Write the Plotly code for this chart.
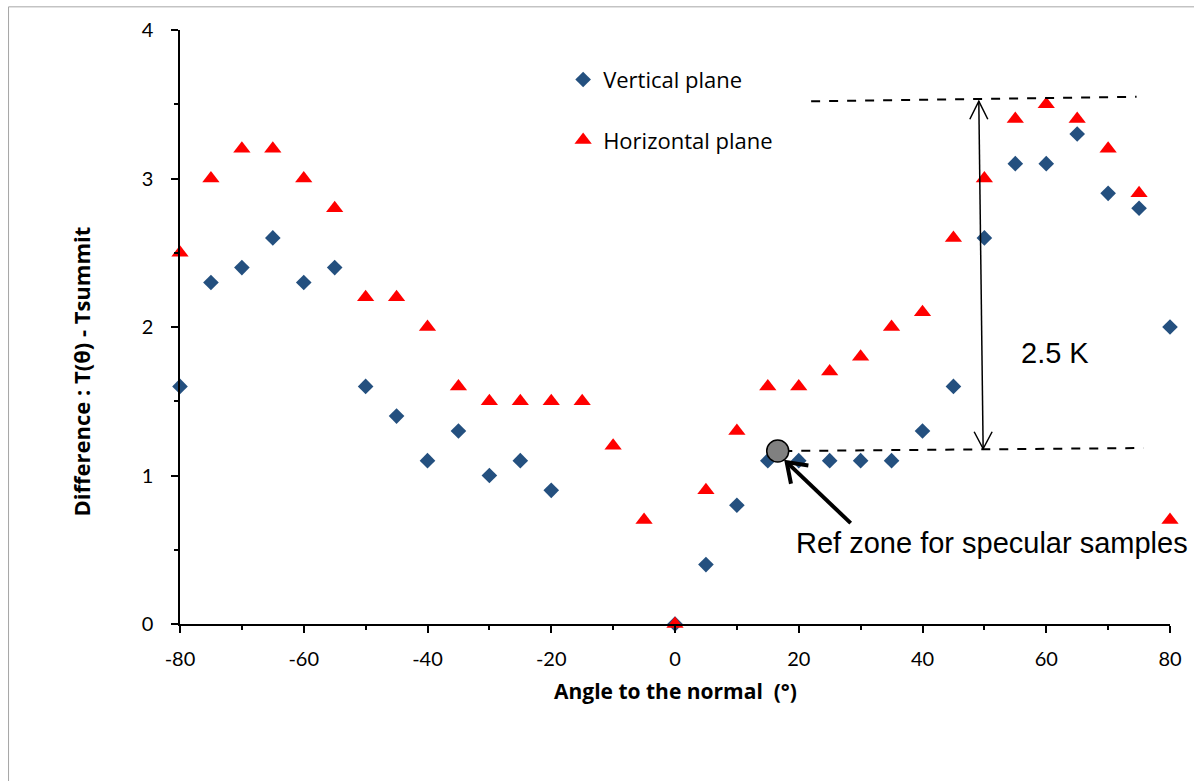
import plotly.graph_objects as go

angles = [-80, -75, -70, -65, -60, -55, -50, -45, -40, -35, -30, -25, -20, -15, -10, -5,
          0, 5, 10, 15, 20, 25, 30, 35, 40, 45, 50, 55, 60, 65, 70, 75, 80]
vertical = [1.6, 2.3, 2.4, 2.6, 2.3, 2.4, 1.6, 1.4, 1.1, 1.3, 1.0, 1.1, 0.9, None, None, None,
            0.0, 0.4, 0.8, 1.1, 1.1, 1.1, 1.1, 1.1, 1.3, 1.6, 2.6, 3.1, 3.1, 3.3, 2.9, 2.8, 2.0]
horizontal = [2.5, 3.0, 3.2, 3.2, 3.0, 2.8, 2.2, 2.2, 2.0, 1.6, 1.5, 1.5, 1.5, 1.5, 1.2, 0.7,
              0.0, 0.9, 1.3, 1.6, 1.6, 1.7, 1.8, 2.0, 2.1, 2.6, 3.0, 3.4, 3.5, 3.4, 3.2, 2.9, 0.7]
x_ticks = [-80, -60, -40, -20, 0, 20, 40, 60, 80]
y_ticks = [0, 1, 2, 3, 4]

BLUE = "#24507F"
RED = "#FF0000"
UIFONT = "Lato"
TITLEFONT = "Open Sans"
ARIAL = "Liberation Sans"

fig = go.Figure()
fig.add_trace(go.Scatter(x=angles, y=vertical, mode="markers", name="Vertical plane",
                         marker=dict(symbol="diamond", size=12, color=BLUE),
                         cliponaxis=False, legendgroup="v"))
fig.add_trace(go.Scatter(x=angles, y=horizontal, mode="markers", name="Horizontal plane",
                         marker=dict(symbol="triangle-up", size=15, color=RED),
                         cliponaxis=False, legendgroup="h"))

shapes = []
# outer chart border
shapes.append(dict(type="rect", xref="paper", yref="paper", x0=-0.1732, x1=1.2, y0=-0.5, y1=1.039,
                   line=dict(color="#A6A6A6", width=1), fillcolor="rgba(0,0,0,0)", layer="below"))
# dashed reference lines
shapes.append(dict(type="line", x0=22, y0=3.52, x1=74.6, y1=3.55,
                   line=dict(color="black", width=2, dash="dash")))
shapes.append(dict(type="line", x0=17.5, y0=1.165, x1=75.7, y1=1.185,
                   line=dict(color="black", width=2, dash="dash")))
# vertical double arrow
shapes.append(dict(type="line", x0=49.1, y0=3.52, x1=49.8, y1=1.18,
                   line=dict(color="black", width=1.5)))
shapes.append(dict(type="path", xsizemode="pixel", ysizemode="pixel", xanchor=49.1, yanchor=3.52,
                   path="M -9,-18 L 0,0 L 9,-18", line=dict(color="black", width=1.5)))
shapes.append(dict(type="path", xsizemode="pixel", ysizemode="pixel", xanchor=49.8, yanchor=1.18,
                   path="M -9,17 L 0,0 L 9,17", line=dict(color="black", width=1.5)))
# thick pointer arrow
shapes.append(dict(type="path", xsizemode="pixel", ysizemode="pixel", xanchor=18.05, yanchor=1.09,
                   path="M 64,-61 L 0,0", line=dict(color="black", width=4)))
shapes.append(dict(type="path", xsizemode="pixel", ysizemode="pixel", xanchor=18.05, yanchor=1.09,
                   path="M 21.7,-3.4 L 0,0 L 4.3,-21.6", line=dict(color="black", width=4)))
# grey reference circle
shapes.append(dict(type="circle", xsizemode="pixel", ysizemode="pixel", xanchor=16.6, yanchor=1.165,
                   x0=-11, x1=11, y0=-11, y1=11, fillcolor="#808080", line=dict(color="black", width=1.5)))

annotations = [
    dict(x=55.6, y=1.825, text="2.5 K", showarrow=False, xanchor="left", yanchor="middle",
         font=dict(family=ARIAL, size=29, color="black")),
    dict(x=19.3, y=0.545, text="Ref zone for specular samples", showarrow=False, xanchor="left",
         yanchor="middle", font=dict(family=ARIAL, size=29, color="black")),
    dict(xref="paper", yref="paper", x=0.5, y=-0.113, text="<b>Angle to the normal  (°)</b>",
         showarrow=False, xanchor="center", yanchor="middle",
         font=dict(family=TITLEFONT, size=21, color="black")),
    dict(xref="paper", yref="paper", x=-0.1, y=0.425, text="<b>Difference : T(θ) - Tsummit</b>",
         showarrow=False, xanchor="center", yanchor="middle", textangle=-90,
         font=dict(family=TITLEFONT, size=22, color="black")),
]

fig.update_layout(
    width=1194, height=781,
    margin=dict(l=180, r=21, t=30, b=157),
    paper_bgcolor="white", plot_bgcolor="white",
    font=dict(family=UIFONT, size=20, color="black"),
    shapes=shapes, annotations=annotations,
    showlegend=True,
    legend=dict(x=0.387, y=0.865, xanchor="left", yanchor="middle", tracegroupgap=29,
                font=dict(family=TITLEFONT, size=22, color="black"), bgcolor="rgba(0,0,0,0)"),
    xaxis=dict(range=[-80, 80], tickvals=x_ticks, ticktext=[str(v) for v in x_ticks],
               showgrid=False, zeroline=False, showline=True, linecolor="black", linewidth=1.5,
               ticks="outside", ticklen=7, tickwidth=1.5, tickcolor="black",
               minor=dict(dtick=10, tick0=0, ticks="outside", ticklen=4, tickwidth=1.5, tickcolor="black", showgrid=False),
               tickfont=dict(family=UIFONT, size=20, color="black"), ticklabelstandoff=9),
    yaxis=dict(range=[0, 4], tickvals=y_ticks, ticktext=[str(v) for v in y_ticks],
               showgrid=False, zeroline=False, showline=True, linecolor="black", linewidth=1.5,
               ticks="outside", ticklen=7, tickwidth=1.5, tickcolor="black",
               minor=dict(dtick=0.5, tick0=0, ticks="outside", ticklen=4, tickwidth=1.5, tickcolor="black", showgrid=False),
               tickfont=dict(family=UIFONT, size=20, color="black"), ticklabelstandoff=14),
)

fig.write_html("out.html")
